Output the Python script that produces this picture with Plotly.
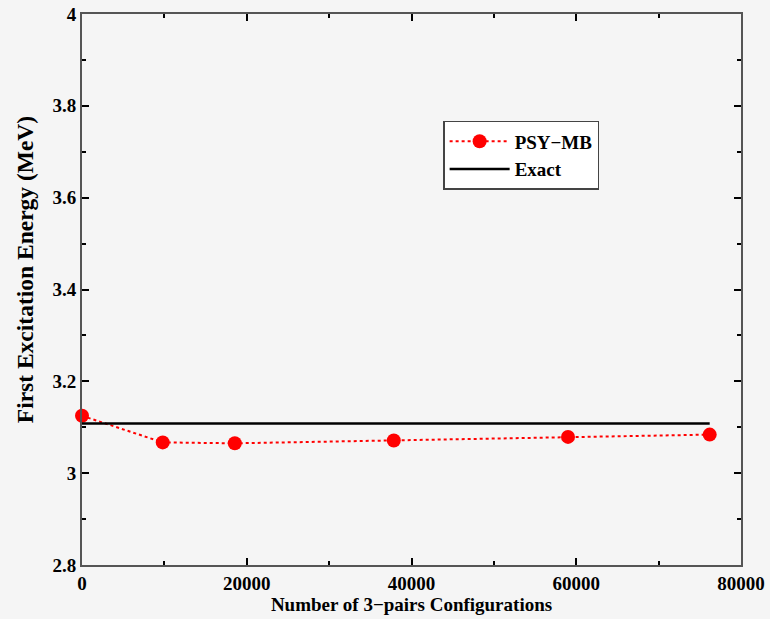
import plotly.graph_objects as go

configs = [0, 9800, 18550, 37850, 59000, 76200]
psy_mb = [3.125, 3.067, 3.065, 3.071, 3.079, 3.084]
exact_x = [0, 76200]
exact_y = [3.108, 3.108]

FS = 19
font = dict(family="Liberation Serif", size=FS, color="black")

fig = go.Figure()
fig.add_trace(go.Scatter(
    x=configs, y=psy_mb, mode="lines+markers", name="<b>PSY\u2212MB</b>",
    line=dict(color="red", width=2, dash="dot"),
    marker=dict(color="red", size=14),
    cliponaxis=False,
))
fig.add_trace(go.Scatter(
    x=exact_x, y=exact_y, mode="lines", name="<b>Exact</b>",
    line=dict(color="black", width=2.5),
))

axis_common = dict(
    showgrid=False, zeroline=False, showline=True, linecolor="#555555", linewidth=2,
    ticks="inside", ticklen=7, tickwidth=1.5, tickcolor="black", mirror="ticks",
    tickfont=font, automargin=False,
)

fig.update_layout(
    width=770, height=619,
    margin=dict(l=82, r=29, t=14, b=54),
    paper_bgcolor="#f5f5f5", plot_bgcolor="#f5f5f5",
    font=font,
    showlegend=True,
    legend=dict(
        x=0.548, y=0.806, xanchor="left", yanchor="top",
        bgcolor="white", bordercolor="#444444", borderwidth=1.5,
        font=font, itemwidth=60, tracegroupgap=0,
    ),
    xaxis=dict(
        range=[0, 80000], tickvals=[0, 20000, 40000, 60000, 80000],
        ticktext=["<b>0</b>", "<b>20000</b>", "<b>40000</b>", "<b>60000</b>", "<b>80000</b>"],
        minor=dict(tickvals=[10000, 30000, 50000, 70000], ticks="inside", ticklen=4, tickcolor="black"),
        title=dict(text="<b>Number of 3\u2212pairs Configurations</b>", standoff=4, font=font),
        **axis_common,
    ),
    yaxis=dict(
        range=[2.8, 4.0], tickvals=[2.8, 3.0, 3.2, 3.4, 3.6, 3.8, 4.0],
        ticktext=["<b>2.8</b>", "<b>3</b>", "<b>3.2</b>", "<b>3.4</b>", "<b>3.6</b>", "<b>3.8</b>", "<b>4</b>"],
        minor=dict(tickvals=[2.9, 3.1, 3.3, 3.5, 3.7, 3.9], ticks="inside", ticklen=4, tickcolor="black"),
        **axis_common,
    ),
    annotations=[dict(
        text="<b>First Excitation Energy (MeV)</b>", textangle=-90,
        xref="paper", yref="paper", x=0, y=0.535, xanchor="center", yanchor="middle",
        xshift=-57, showarrow=False,
        font=dict(family="Liberation Serif", size=23.5, color="black"),
    )],
)

fig.write_html("out.html")
